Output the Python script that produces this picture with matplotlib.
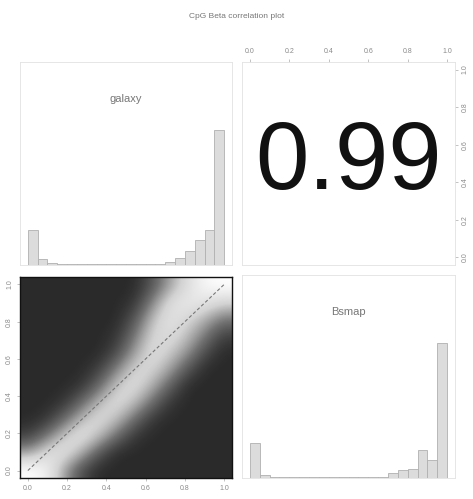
import matplotlib
matplotlib.use("Agg")
import matplotlib.pyplot as plt
from matplotlib.colors import LinearSegmentedColormap
import numpy as np

plt.rcParams["font.family"] = ["Liberation Sans", "DejaVu Sans"]

title = "CpG Beta correlation plot"
names = ["galaxy", "Bsmap"]
corr_text = "0.99"
ticks = [0.0, 0.2, 0.4, 0.6, 0.8, 1.0]
tick_labels = ["0.0", "0.2", "0.4", "0.6", "0.8", "1.0"]

# histogram heights per 0.05 bin (relative)
bins = np.linspace(0, 1, 21)
hist_galaxy = [35, 6, 2, 1, 1, 1, 1, 1, 1, 1, 1, 1, 1, 1, 3, 7, 14, 25, 35, 135]
hist_bsmap = [35, 3, 1, 1, 1, 1, 1, 1, 1, 1, 1, 1, 1, 1, 5, 8, 9, 28, 18, 135]

# smoothed density, rows from top (y high) to bottom, 12 x 12 cells
density = [
    [0, 0, 0, 0, 0, 0, 0, 0.2, 0.5, 0.75, 0.95, 1.0],
    [0, 0, 0, 0, 0, 0, 0.05, 0.4, 0.75, 0.85, 0.8, 0.7],
    [0, 0, 0, 0, 0, 0, 0.2, 0.6, 0.8, 0.7, 0.55, 0.35],
    [0, 0, 0, 0, 0, 0.05, 0.35, 0.7, 0.75, 0.6, 0.35, 0.1],
    [0, 0, 0, 0, 0, 0.15, 0.5, 0.75, 0.65, 0.45, 0.15, 0],
    [0, 0, 0, 0, 0.1, 0.4, 0.7, 0.7, 0.5, 0.2, 0, 0],
    [0, 0, 0, 0.05, 0.3, 0.65, 0.75, 0.55, 0.25, 0, 0, 0],
    [0, 0, 0.05, 0.3, 0.6, 0.75, 0.6, 0.3, 0.05, 0, 0, 0],
    [0, 0.05, 0.3, 0.6, 0.75, 0.6, 0.3, 0.05, 0, 0, 0, 0],
    [0.1, 0.35, 0.65, 0.8, 0.6, 0.3, 0.05, 0, 0, 0, 0, 0],
    [0.5, 0.75, 0.8, 0.55, 0.2, 0, 0, 0, 0, 0, 0, 0],
    [1.0, 0.9, 0.5, 0.15, 0, 0, 0, 0, 0, 0, 0, 0],
]

W, H = 473, 499
fig = plt.figure(figsize=(W / 100, H / 100), dpi=100)

def box(x0, y0, x1, y1):
    return [x0 / W, 1 - y1 / H, (x1 - x0) / W, (y1 - y0) / H]

ax_tl = fig.add_axes(box(20, 62, 232, 265))
ax_tr = fig.add_axes(box(242, 62, 455, 265))
ax_bl = fig.add_axes(box(20, 277, 232, 478))
ax_br = fig.add_axes(box(242, 275, 455, 478))

lim = (-0.04, 1.04)
tick_kw = dict(labelsize=5, labelcolor="#8a8a8a", color="#aaaaaa", length=2, width=0.5, pad=3)

for ax in (ax_tl, ax_tr, ax_bl, ax_br):
    ax.set_xlim(lim)
    ax.set_ylim(lim)
    ax.set_xticks([])
    ax.set_yticks([])
    for s in ax.spines.values():
        s.set_color("#e2e2e2")
        s.set_linewidth(0.6)

# diagonal histograms
for ax, h, name in ((ax_tl, hist_galaxy, names[0]), (ax_br, hist_bsmap, names[1])):
    h = np.array(h, dtype=float)
    ax.set_ylim(0, 1.5)
    ax.bar(bins[:-1], h / h.max(), width=0.05, align="edge",
           color="#dcdcdc", edgecolor="#b0b0b0", linewidth=0.6)
    ax.text(0.5, 1.23, name, ha="center", va="center", fontsize=8, color="#777777")

# upper panel: correlation
ax_tr.text(0.5, 0.5, corr_text, ha="center", va="center", fontsize=69,
           color="#111111", transform=ax_tr.transAxes)
ax_tr.xaxis.tick_top()
ax_tr.yaxis.tick_right()
ax_tr.set_xticks(ticks)
ax_tr.set_xticklabels(tick_labels)
ax_tr.set_yticks(ticks)
ax_tr.set_yticklabels(tick_labels, rotation=90, va="center")
ax_tr.tick_params(**tick_kw)

# lower panel: smoothed scatter density
cmap = LinearSegmentedColormap.from_list("grey", ["#2a2a2a", "#727272", "#d2d2d2", "#ffffff"])
ax_bl.imshow(np.array(density), extent=(lim[0], lim[1], lim[0], lim[1]), origin="upper",
             cmap=cmap, vmin=0, vmax=1, interpolation="bicubic", aspect="auto")
ax_bl.plot([0, 1], [0, 1], color="#777777", linestyle=(0, (3, 2)), linewidth=0.8)
ax_bl.set_xlim(lim)
ax_bl.set_ylim(lim)
for s in ax_bl.spines.values():
    s.set_color("#111111")
    s.set_linewidth(1.0)
ax_bl.set_xticks(ticks)
ax_bl.set_xticklabels(tick_labels)
ax_bl.set_yticks(ticks)
ax_bl.set_yticklabels(tick_labels, rotation=90, va="center")
ax_bl.tick_params(**tick_kw)

fig.text(0.5, 1 - 16 / H, title, ha="center", va="center", fontsize=6, color="#777777")

fig.savefig("out.png", dpi=100)
